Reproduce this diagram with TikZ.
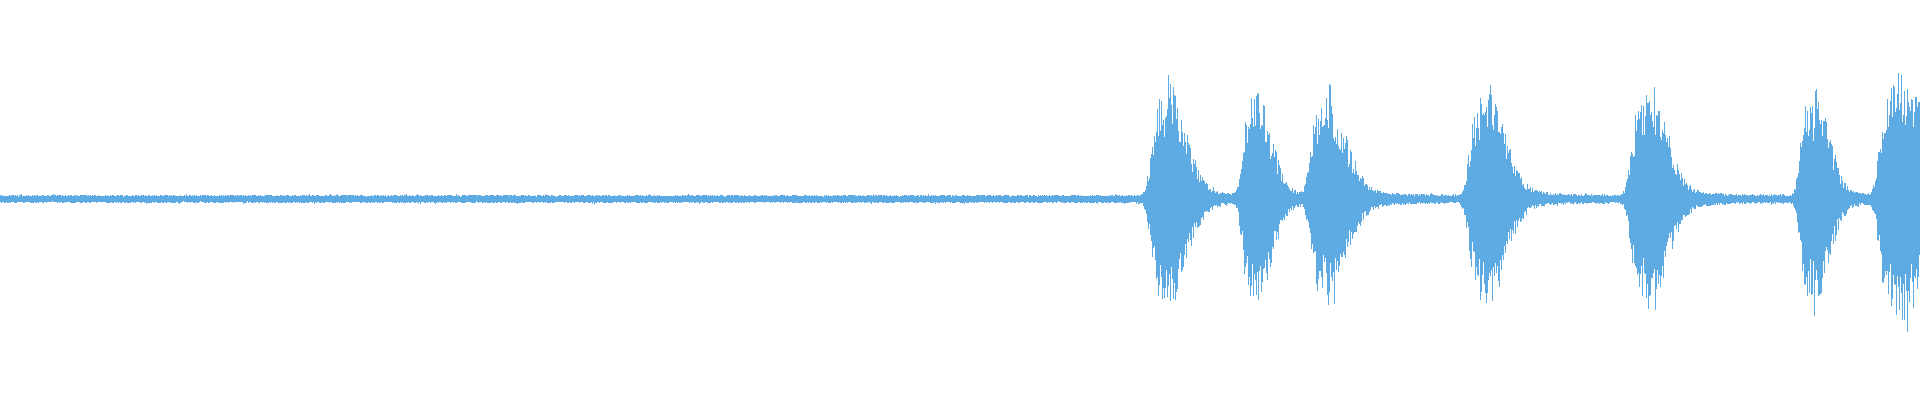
\documentclass[tikz,border=0pt]{standalone}
\definecolor{wave}{HTML}{5DABE2}
\begin{document}
\begin{tikzpicture}[x=1pt,y=-1pt,
  declare function={
    bu(\x,\c,\p,\a,\d,\t,\e)=((\x<\c)?1:0)*\p*exp(-(min(max(\c-\x,0)/\a,4))^4)
       + ((\x<\c)?0:1)*\p*exp(-(min(max(\x-\c,0)/\d,6))^2)
       + ((\x>\c)?1:0)*\t*exp(-min(max(\x-\c,0)/\e,30));
    env(\x)=4.5 + bu(\x,1168,100,18,24,20,26) + bu(\x,1255,100,14,22,12,20)
      + bu(\x,1326,95,17,26,20,30) + bu(\x,1486,100,18,25,18,30)
      + bu(\x,1648,100,18,25,18,30) + bu(\x,1814,100,15,20,16,22)
      + bu(\x,1896,110,18,45,20,30);
  }]
\useasboundingbox (0,0) rectangle (1920,400);
\pgfmathsetseed{7}
\foreach \i in {0,...,1919}{
  \pgfmathsetmacro{\E}{env(\i+0.5)}
  \pgfmathsetmacro{\up}{\E*(0.55+0.45*rnd)*((rnd>0.96)?1.15:1)}
  \pgfmathsetmacro{\dn}{\E*(0.55+0.45*rnd)*((rnd>0.96)?1.15:1)}
  \draw[wave,line width=1pt] (\i+0.5,199-\up) -- (\i+0.5,199+\dn);
}
\end{tikzpicture}
\end{document}
